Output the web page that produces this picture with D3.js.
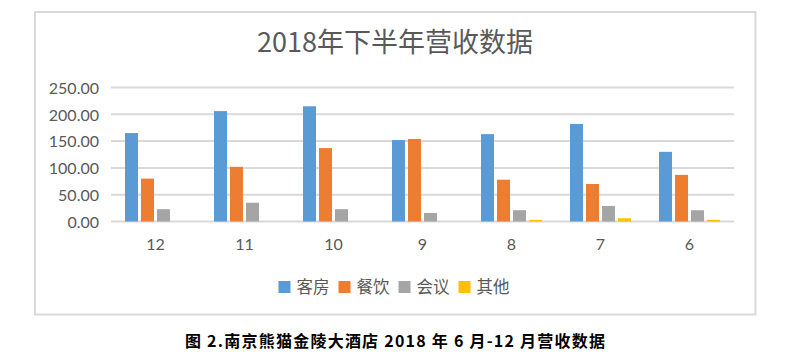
<!DOCTYPE html>
<html>
<head>
<meta charset="utf-8">
<script src="https://cdn.jsdelivr.net/npm/d3@7"></script>
<style>
html,body{margin:0;padding:0;background:#fff;}
svg{display:block;}
</style>
</head>
<body>
<svg id="chart" width="799" height="359"></svg>
<script>
const categories = ["12", "11", "10", "9", "8", "7", "6"];
const seriesNames = ["客房", "餐饮", "会议", "其他"];
const roomValues = [165, 206, 215, 152, 163, 182, 130];
const diningValues = [80, 102, 137, 154, 78, 70, 87];
const meetingValues = [23, 35, 23, 16, 21, 29, 21];
const otherValues = [0, 0, 0, 0, 3, 6, 3];
const yTicks = [0, 50, 100, 150, 200, 250];
const colors = ["#5B9BD5", "#ED7D31", "#A5A5A5", "#FFC000"];
const titleText = "2018年下半年营收数据";
const captionText = "图 2.南京熊猫金陵大酒店 2018 年 6 月-12 月营收数据";

const seriesValues = [roomValues, diningValues, meetingValues, otherValues];
const rows = categories.map((c, i) => ({cat: c, vals: seriesNames.map((s, j) => ({s, j, v: seriesValues[j][i]}))}));

const svg = d3.select("#chart");
const W = 799;
const plot = {left: 111, right: 734, top: 87.5, bottom: 221.5};

// chart frame
svg.append("rect").attr("x", 35).attr("y", 12).attr("width", 720.5).attr("height", 302.5)
  .attr("fill", "#fff").attr("stroke", "#D9D9D9").attr("stroke-width", 2);

// title
svg.append("text").attr("x", 395).attr("y", 52).attr("text-anchor", "middle")
  .attr("font-family", "'Noto Sans CJK SC', sans-serif").attr("font-size", 27)
  .attr("fill", "#595959").text(titleText);

const y = d3.scaleLinear().domain([0, 250]).range([plot.bottom, plot.top]);
const x0 = d3.scaleBand().domain(categories).range([plot.left, plot.right]).paddingInner(0).paddingOuter(0);
const x1 = d3.scaleBand().domain(seriesNames).range([0, x0.bandwidth()]).paddingInner(0.1875).paddingOuter(0.875);

// gridlines
svg.append("g").selectAll("line").data(yTicks).join("line")
  .attr("x1", plot.left).attr("x2", plot.right)
  .attr("y1", d => y(d)).attr("y2", d => y(d))
  .attr("stroke", "#D9D9D9").attr("stroke-width", 2);

// y axis labels
const yAxis = d3.axisLeft(y).tickValues(yTicks).tickFormat(d3.format(".2f")).tickSize(0).tickPadding(0);
const ya = svg.append("g").attr("transform", `translate(99,0)`).call(yAxis);
ya.select(".domain").remove();
ya.selectAll("text").attr("font-family", "Lato, 'Open Sans', sans-serif").attr("font-size", 16)
  .attr("fill", "#595959").attr("dy", "0.36em");

// bars
const groups = svg.append("g").selectAll("g").data(rows).join("g")
  .attr("transform", d => `translate(${x0(d.cat)},0)`);
groups.selectAll("rect").data(d => d.vals).join("rect")
  .attr("x", d => x1(d.s)).attr("width", x1.bandwidth())
  .attr("y", d => y(d.v)).attr("height", d => y(0) - y(d.v))
  .attr("fill", d => colors[d.j]);

// x axis labels
const xAxis = d3.axisBottom(x0).tickSize(0).tickPadding(0);
const xa = svg.append("g").attr("transform", `translate(0,250)`).call(xAxis);
xa.select(".domain").remove();
xa.selectAll("text").attr("font-family", "Lato, 'Open Sans', sans-serif").attr("font-size", 16)
  .attr("fill", "#595959").attr("dy", 0);

// legend
const legend = svg.append("g");
const items = legend.selectAll("g").data(seriesNames).join("g");
items.append("rect").attr("width", 12).attr("height", 12).attr("y", -6).attr("fill", (d, i) => colors[i]);
items.append("text").attr("x", 18).attr("y", 0).attr("dy", "0.36em")
  .attr("font-family", "'Noto Sans CJK SC', sans-serif").attr("font-size", 16.5)
  .attr("fill", "#595959").text(d => d);
let cx = 0;
const offs = [];
items.each(function(d, i) {
  const tw = d3.select(this).select("text").node().getComputedTextLength();
  offs.push(cx);
  cx += 18 + tw + (i < seriesNames.length - 1 ? 9 : 0);
});
items.attr("transform", (d, i) => `translate(${offs[i]},0)`);
legend.attr("transform", `translate(${394 - cx / 2},287)`);

// caption
svg.append("text").attr("x", 395).attr("y", 347).attr("text-anchor", "middle")
  .attr("font-family", "'Noto Sans CJK SC', sans-serif").attr("font-size", 16)
  .attr("font-weight", "bold").attr("fill", "#000")
  .attr("textLength", 420).attr("lengthAdjust", "spacing")
  .text(captionText);
</script>
</body>
</html>
